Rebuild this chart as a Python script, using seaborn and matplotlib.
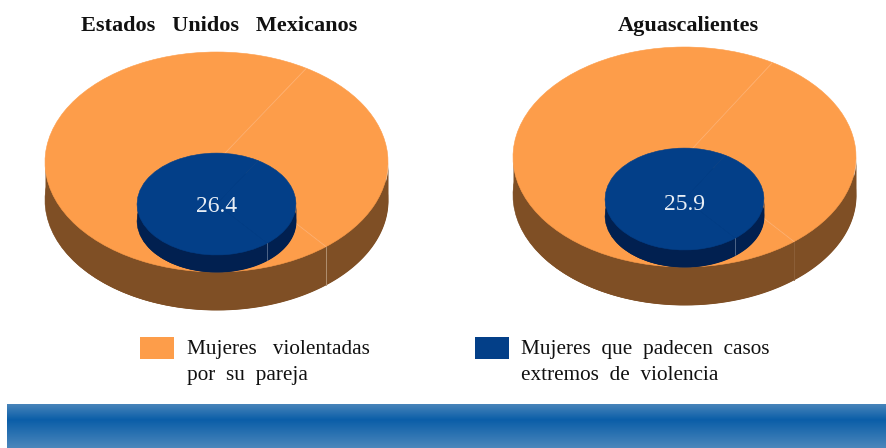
import numpy as np
import matplotlib.pyplot as plt
from matplotlib.patches import Rectangle
import seaborn as sns

sns.set_theme(style="white")
plt.rcParams['font.family'] = ['Liberation Serif', 'DejaVu Serif']

# data
titles = ["Estados   Unidos   Mexicanos", "Aguascalientes"]
extreme_values = [26.4, 25.9]
# share of the pie between the two divider lines, and the rest
slice_small = [30.2, 30.4]
slice_large = [69.8, 69.6]
legend_labels = ["Mujeres   violentadas\npor  su  pareja", "Mujeres  que  padecen  casos\nextremos  de  violencia"]

orange = "#FD9D4A"
brown = "#7F4F25"
blue = "#033F88"
navy = "#012050"

W, H = 886, 448
START = -50.3
INNER_R = 0.463
OUTER_DEPTH = 0.345
INNER_DEPTH = 0.155


def px_axes(fig, left, top, width, height):
    return fig.add_axes([left / W, 1 - (top + height) / H, width / W, height / H])


def disc(ax, shares, color, wall, r, cy, depth, z):
    # side wall: bottom pie plus the band between the two lower rims
    t = np.linspace(np.pi, 2 * np.pi, 300)
    ax.pie(shares, colors=[wall, wall], radius=r, center=(0, cy - depth), startangle=START,
           wedgeprops={"linewidth": 0.4, "edgecolor": wall, "zorder": z})
    ax.fill_between(r * np.cos(t), cy + r * np.sin(t) - depth, cy + r * np.sin(t), color=wall, lw=0, zorder=z)
    ax.pie(shares, colors=[color, color], radius=r, center=(0, cy), startangle=START,
           wedgeprops={"linewidth": 0.4, "edgecolor": color, "zorder": z + 1})


fig = plt.figure(figsize=(W / 100, H / 100), dpi=100)

centers = [(216.5, 162), (684.5, 157)]
wall_line = ["#B09070", "#8C5F38"]
label_shift = [0.018, 0.05]
for i, (cx, cy) in enumerate(centers):
    ax = px_axes(fig, cx - 1.05 * 171.5, cy - 1.05 * 110, 2.1 * 171.5, 2.55 * 110)
    shares = [slice_small[i], slice_large[i]]
    end = START + shares[0] / sum(shares) * 360

    disc(ax, shares, orange, brown, 1, 0, OUTER_DEPTH, 1)
    a0, a1 = np.radians(START), np.radians(end)
    ax.plot([0, np.cos(a1)], [0, np.sin(a1)], color="#FFB273", lw=0.6, zorder=3)
    ax.plot([0, np.cos(a0)], [0, np.sin(a0)], color="#FFB273", lw=0.6, zorder=3)
    ax.plot([np.cos(a0)] * 2, [np.sin(a0), np.sin(a0) - OUTER_DEPTH], color=wall_line[i], lw=0.7, zorder=3)

    inner_y = -0.382
    disc(ax, shares, blue, navy, INNER_R, inner_y, INNER_DEPTH, 4)
    rx, ry = INNER_R * np.cos(a0), inner_y + INNER_R * np.sin(a0)
    ax.plot([rx, rx], [ry, ry - INNER_DEPTH], color="#5A7090", lw=0.6, zorder=6)
    ax.text(0, inner_y - label_shift[i], f"{extreme_values[i]}", color="#E8EEF5", fontsize=17,
            ha="center", va="center", zorder=7)

    ax.set_aspect("auto")
    ax.set_xlim(-1.05, 1.05)
    ax.set_ylim(-1.5, 1.05)
    ax.axis("off")

# titles
fig.text(219 / W, 1 - 26 / H, titles[0], fontsize=16, fontweight="bold", ha="center", va="center", color="#111111")
fig.text(688 / W, 1 - 26 / H, titles[1], fontsize=16, fontweight="bold", ha="center", va="center", color="#111111")

# legend
for x, color, tx, lab in zip([140, 475], [orange, blue], [187, 521], legend_labels):
    fig.patches.append(Rectangle((x / W, 1 - 359 / H), 34 / W, 22 / H, transform=fig.transFigure,
                                 facecolor=color, lw=0, figure=fig))
    fig.text(tx / W, 1 - 340 / H, lab, fontsize=15.3, va="top", ha="left", color="#111111", linespacing=1.5)

# gradient band at the bottom: darkest a third of the way down
band = px_axes(fig, 7, 404, 879, 44)
rows = np.arange(44)
grad = np.where(rows < 16, (16 - rows) / 16, (rows - 16) / 27).reshape(-1, 1)
cmap = sns.blend_palette(["#0B5EA8", "#4A86BB"], as_cmap=True)
band.imshow(grad, aspect="auto", cmap=cmap, vmin=0, vmax=1)
band.axis("off")

fig.savefig("out.png", dpi=100)
